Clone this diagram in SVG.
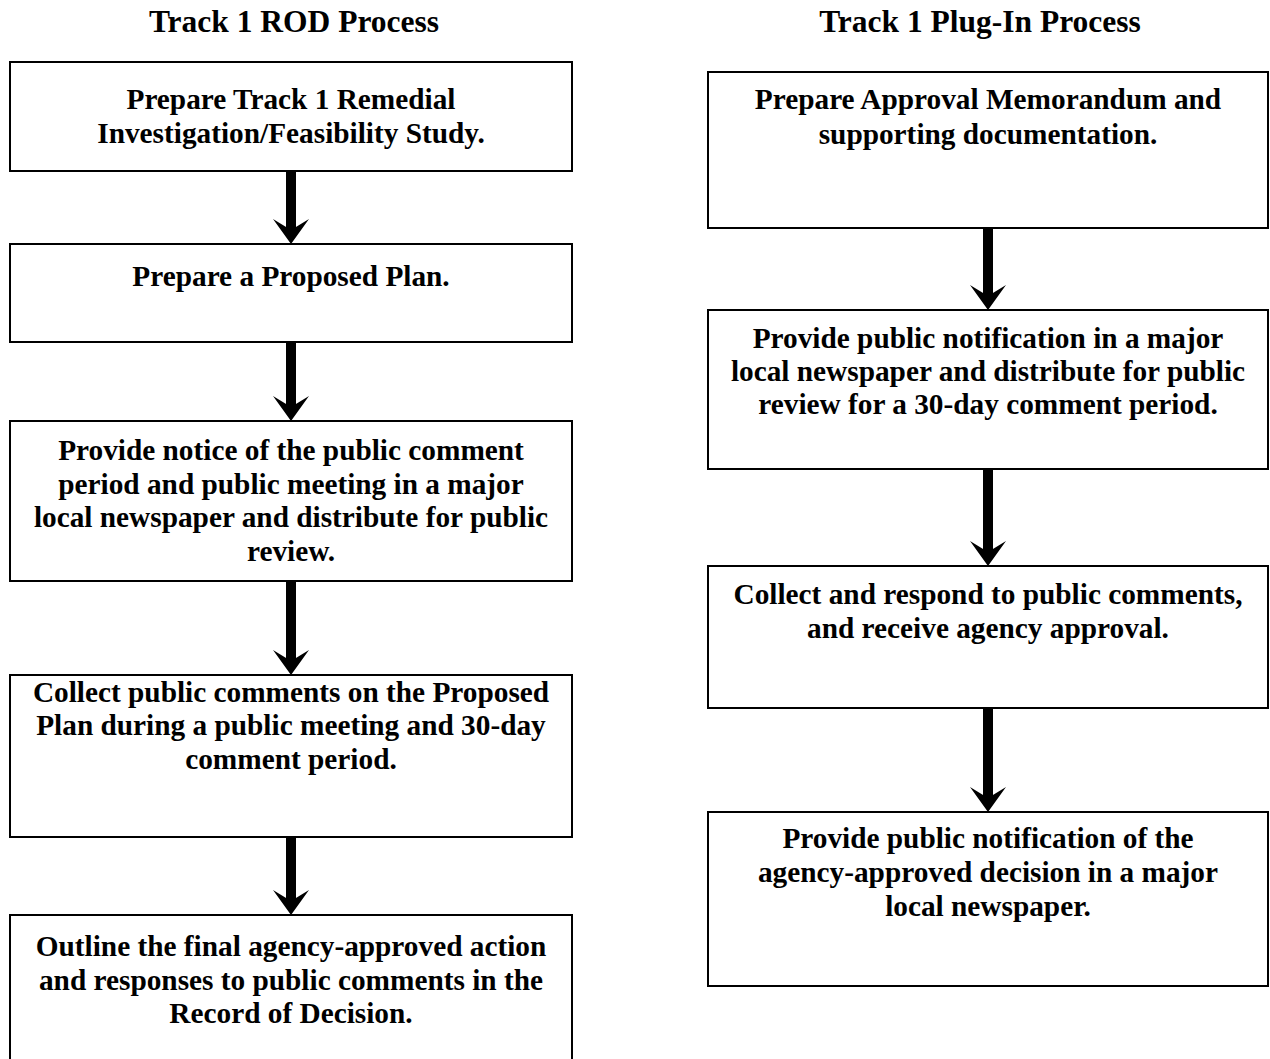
<svg xmlns="http://www.w3.org/2000/svg" width="1270" height="1059" viewBox="0 0 1270 1059">
<style>
.box{fill:#fff;stroke:#000;stroke-width:2}
text{font-family:"Liberation Serif","Times New Roman",serif;font-weight:bold;font-size:29.3px;fill:#000;text-anchor:middle}
.title{font-size:31.5px}
.arr{fill:#000}
</style>
<defs>
<path id="arrowhead" d="M-18,-25 L0,0 L18,-25 L0,-14 Z"/>
</defs>
<rect width="1270" height="1059" fill="#fff"/>
<g id="title-left"><text class="title" x="294" y="32">Track 1 ROD Process</text></g>
<g id="title-right"><text class="title" x="980" y="32">Track 1 Plug-In Process</text></g>

<g id="connectors">
<g class="arr">
<rect x="286" y="171" width="10" height="60"/><use href="#arrowhead" x="291" y="244"/>
<rect x="286" y="342" width="10" height="66"/><use href="#arrowhead" x="291" y="421"/>
<rect x="286" y="581" width="10" height="81"/><use href="#arrowhead" x="291" y="675"/>
<rect x="286" y="837" width="10" height="65"/><use href="#arrowhead" x="291" y="915"/>
<rect x="983" y="228" width="10" height="69"/><use href="#arrowhead" x="988" y="310"/>
<rect x="983" y="469" width="10" height="84"/><use href="#arrowhead" x="988" y="566"/>
<rect x="983" y="708" width="10" height="91"/><use href="#arrowhead" x="988" y="812"/>
</g>
</g>

<g id="l1"><rect class="box" x="10" y="62" width="562" height="109"/>
<text x="291" y="109">Prepare Track 1 Remedial</text>
<text x="291" y="143">Investigation/Feasibility Study.</text></g>

<g id="l2"><rect class="box" x="10" y="244" width="562" height="98"/>
<text x="291" y="286">Prepare a Proposed Plan.</text></g>

<g id="l3"><rect class="box" x="10" y="421" width="562" height="160"/>
<text x="291" y="460">Provide notice of the public comment</text>
<text x="291" y="494">period and public meeting in a major</text>
<text x="291" y="527">local newspaper and distribute for public</text>
<text x="291" y="561">review.</text></g>

<g id="l4"><rect class="box" x="10" y="675" width="562" height="162"/>
<text x="291" y="702">Collect public comments on the Proposed</text>
<text x="291" y="735">Plan during a public meeting and 30-day</text>
<text x="291" y="769">comment period.</text></g>

<g id="l5"><rect class="box" x="10" y="915" width="562" height="160"/>
<text x="291" y="956">Outline the final agency-approved action</text>
<text x="291" y="990">and responses to public comments in the</text>
<text x="291" y="1023">Record of Decision.</text></g>

<g id="r1"><rect class="box" x="708" y="72" width="560" height="156"/>
<text x="988" y="109">Prepare Approval Memorandum and</text>
<text x="988" y="144">supporting documentation.</text></g>

<g id="r2"><rect class="box" x="708" y="310" width="560" height="159"/>
<text x="988" y="348">Provide public notification in a major</text>
<text x="988" y="381">local newspaper and distribute for public</text>
<text x="988" y="414">review for a 30-day comment period.</text></g>

<g id="r3"><rect class="box" x="708" y="566" width="560" height="142"/>
<text x="988" y="604">Collect and respond to public comments,</text>
<text x="988" y="638">and receive agency approval.</text></g>

<g id="r4"><rect class="box" x="708" y="812" width="560" height="174"/>
<text x="988" y="848">Provide public notification of the</text>
<text x="988" y="882">agency-approved decision in a major</text>
<text x="988" y="916">local newspaper.</text></g>
</svg>
